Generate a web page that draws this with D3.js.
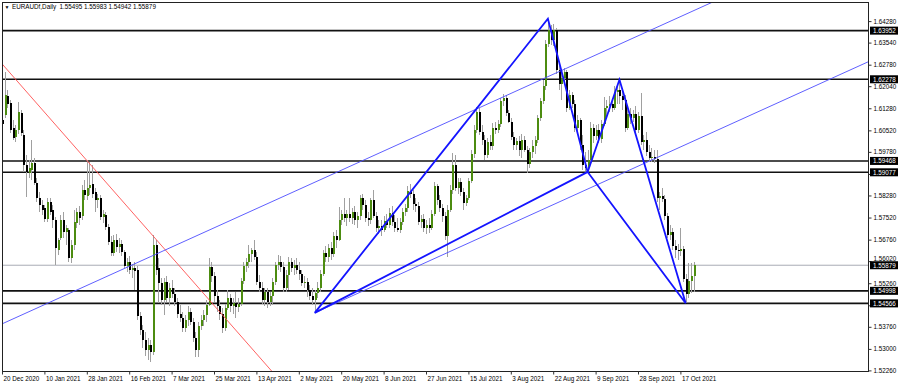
<!DOCTYPE html>
<html>
<head>
<meta charset="utf-8">
<script src="https://cdn.jsdelivr.net/npm/d3@7"></script>
<style>
body { margin: 0; background: #fff; }
svg text { font-family: "Liberation Sans", Arial, sans-serif; font-size: 6.3px; }
</style>
</head>
<body>
<div id="chart"></div>
<script>
// EURAUDf daily candles, one per bar (Sun-Fri sessions)
const opens = [
  1.6088,1.6105,1.6171,1.6147,1.6061,1.6030,1.6054,1.6112,1.6037,1.5933,
  1.5906,1.5916,1.5940,1.5871,1.5820,1.5796,1.5785,1.5748,1.5806,1.5779,
  1.5744,1.5641,1.5682,1.5744,1.5703,1.5710,1.5613,1.5658,1.5734,1.5772,
  1.5758,1.5847,1.5827,1.5854,1.5868,1.5841,1.5813,1.5820,1.5755,1.5761,
  1.5720,1.5669,1.5631,1.5675,1.5651,1.5662,1.5634,1.5586,1.5600,1.5572,
  1.5579,1.5572,1.5414,1.5366,1.5331,1.5297,1.5314,1.5290,1.5658,1.5579,
  1.5527,1.5469,1.5531,1.5476,1.5510,1.5490,1.5462,1.5421,1.5407,1.5373,
  1.5400,1.5428,1.5393,1.5338,1.5297,1.5380,1.5400,1.5417,1.5452,1.5583,
  1.5552,1.5483,1.5448,1.5421,1.5373,1.5441,1.5476,1.5448,1.5459,1.5445,
  1.5455,1.5534,1.5586,1.5600,1.5627,1.5641,1.5617,1.5531,1.5510,1.5469,
  1.5497,1.5462,1.5483,1.5531,1.5589,1.5600,1.5583,1.5510,1.5555,1.5600,
  1.5579,1.5589,1.5572,1.5558,1.5527,1.5531,1.5503,1.5483,1.5469,1.5493,
  1.5510,1.5558,1.5631,1.5617,1.5648,1.5627,1.5689,1.5675,1.5744,1.5765,
  1.5751,1.5765,1.5751,1.5772,1.5744,1.5758,1.5820,1.5796,1.5751,1.5744,
  1.5813,1.5758,1.5717,1.5724,1.5710,1.5741,1.5727,1.5768,1.5737,1.5717,
  1.5710,1.5737,1.5772,1.5785,1.5844,1.5834,1.5799,1.5792,1.5737,1.5748,
  1.5717,1.5727,1.5717,1.5765,1.5861,1.5813,1.5785,1.5758,1.5689,1.5779,
  1.5847,1.5933,1.5854,1.5875,1.5841,1.5803,1.5820,1.5878,1.5971,1.6054,
  1.6116,1.6047,1.6019,1.5968,1.6013,1.5999,1.6061,1.6054,1.6074,1.6154,
  1.6164,1.6112,1.6081,1.6030,1.6002,1.6016,1.5985,1.6019,1.5985,1.5937,
  1.5978,1.5999,1.6019,1.6095,1.6154,1.6205,1.6350,1.6398,1.6363,1.6398,
  1.6260,1.6212,1.6233,1.6253,1.6129,1.6174,1.6143,1.6061,1.6088,1.6002,
  1.5933,1.5923,1.5951,1.6061,1.6033,1.6054,1.6023,1.6074,1.6129,1.6136,
  1.6143,1.6129,1.6185,1.6191,1.6171,1.6157,1.6061,1.6109,1.6095,1.6109,
  1.6054,1.6102,1.6013,1.6019,1.5978,1.5957,1.5961,1.5954,1.5820,1.5827,
  1.5816,1.5758,1.5693,1.5703,1.5655,1.5641,1.5638,1.5644,1.5541,1.5490,
  1.5534,1.55495
]
const highs = [
  1.6112,1.6253,1.6191,1.6157,1.6088,1.6071,1.6150,1.6123,1.6054,1.5968,
  1.5951,1.6019,1.5957,1.5889,1.5841,1.5813,1.5796,1.5820,1.5820,1.5796,
  1.5755,1.5682,1.5761,1.5772,1.5727,1.5717,1.5675,1.5779,1.5785,1.5792,
  1.5865,1.5882,1.5951,1.5944,1.5933,1.5854,1.5834,1.5830,1.5779,1.5772,
  1.5730,1.5689,1.5693,1.5696,1.5682,1.5675,1.5641,1.5613,1.5620,1.5593,
  1.5600,1.5586,1.5428,1.5383,1.5359,1.5338,1.5331,1.5693,1.5675,1.5613,
  1.5545,1.5545,1.5552,1.5527,1.5538,1.5510,1.5476,1.5452,1.5428,1.5417,
  1.5448,1.5441,1.5407,1.5359,1.5393,1.5417,1.5435,1.5469,1.5613,1.5600,
  1.5565,1.5503,1.5469,1.5441,1.5455,1.5503,1.5490,1.5476,1.5497,1.5476,
  1.5545,1.5600,1.5613,1.5658,1.5648,1.5675,1.5634,1.5555,1.5531,1.5510,
  1.5510,1.5497,1.5545,1.5600,1.5624,1.5620,1.5600,1.5572,1.5617,1.5613,
  1.5607,1.5613,1.5600,1.5572,1.5552,1.5545,1.5521,1.5510,1.5503,1.5531,
  1.5572,1.5641,1.5655,1.5662,1.5669,1.5703,1.5710,1.5789,1.5779,1.5820,
  1.5779,1.5820,1.5785,1.5792,1.5772,1.5830,1.5834,1.5813,1.5772,1.5820,
  1.5847,1.5772,1.5744,1.5744,1.5758,1.5765,1.5785,1.5792,1.5761,1.5751,
  1.5751,1.5785,1.5799,1.5861,1.5868,1.5847,1.5820,1.5806,1.5761,1.5765,
  1.5744,1.5751,1.5779,1.5875,1.5868,1.5830,1.5799,1.5772,1.5796,1.5865,
  1.5975,1.5968,1.5889,1.5889,1.5854,1.5830,1.5889,1.5985,1.6071,1.6133,
  1.6129,1.6071,1.6037,1.6026,1.6037,1.6078,1.6081,1.6088,1.6164,1.6178,
  1.6174,1.6123,1.6095,1.6047,1.6026,1.6033,1.6040,1.6033,1.5999,1.5992,
  1.6019,1.6033,1.6105,1.6164,1.6226,1.6363,1.6436,1.6415,1.6418,1.6405,
  1.6274,1.6253,1.6267,1.6260,1.6191,1.6185,1.6157,1.6105,1.6095,1.6037,
  1.5978,1.5985,1.6081,1.6074,1.6071,1.6074,1.6088,1.6167,1.6157,1.6171,
  1.6164,1.6205,1.6212,1.6226,1.6198,1.6174,1.6129,1.6129,1.6123,1.6136,
  1.6116,1.6181,1.6037,1.6047,1.6002,1.5992,1.5985,1.5985,1.5841,1.5854,
  1.5830,1.5768,1.5727,1.5717,1.5675,1.5662,1.5717,1.5655,1.5558,1.5596,
  1.5596,1.55983
]
const lows = [
  1.6061,1.6095,1.6129,1.6043,1.6019,1.6013,1.6040,1.6033,1.5909,1.5823,
  1.5889,1.5882,1.5865,1.5806,1.5772,1.5761,1.5737,1.5737,1.5761,1.5717,
  1.5589,1.5624,1.5675,1.5682,1.5658,1.5600,1.5596,1.5641,1.5717,1.5727,
  1.5744,1.5813,1.5813,1.5830,1.5820,1.5772,1.5785,1.5744,1.5734,1.5710,
  1.5658,1.5620,1.5620,1.5634,1.5631,1.5620,1.5579,1.5565,1.5558,1.5545,
  1.5503,1.5400,1.5349,1.5304,1.5276,1.5263,1.5256,1.5280,1.5555,1.5459,
  1.5452,1.5417,1.5462,1.5448,1.5476,1.5448,1.5407,1.5393,1.5359,1.5359,
  1.5380,1.5383,1.5325,1.5273,1.5273,1.5366,1.5380,1.5393,1.5448,1.5531,
  1.5462,1.5428,1.5400,1.5355,1.5362,1.5435,1.5428,1.5421,1.5407,1.5428,
  1.5448,1.5524,1.5565,1.5579,1.5600,1.5607,1.5521,1.5497,1.5455,1.5448,
  1.5441,1.5448,1.5452,1.5521,1.5572,1.5565,1.5497,1.5497,1.5503,1.5565,
  1.5555,1.5558,1.5538,1.5517,1.5510,1.5479,1.5469,1.5452,1.5424,1.5476,
  1.5497,1.5551,1.5600,1.5600,1.5607,1.5617,1.5648,1.5672,1.5727,1.5737,
  1.5724,1.5737,1.5730,1.5727,1.5717,1.5744,1.5779,1.5737,1.5724,1.5730,
  1.5751,1.5703,1.5696,1.5689,1.5703,1.5717,1.5717,1.5724,1.5703,1.5703,
  1.5699,1.5727,1.5758,1.5772,1.5820,1.5779,1.5772,1.5727,1.5717,1.5703,
  1.5696,1.5699,1.5710,1.5758,1.5796,1.5772,1.5737,1.5675,1.5617,1.5772,
  1.5834,1.5844,1.5834,1.5827,1.5779,1.5792,1.5813,1.5871,1.5957,1.6043,
  1.6037,1.6002,1.5951,1.5957,1.5985,1.5985,1.6040,1.6043,1.6064,1.6136,
  1.6102,1.6078,1.6019,1.5985,1.5985,1.5964,1.5957,1.5978,1.5906,1.5923,
  1.5957,1.5971,1.6009,1.6085,1.6143,1.6191,1.6339,1.6346,1.6343,1.6246,
  1.6191,1.6157,1.6212,1.6116,1.6123,1.6129,1.6047,1.6043,1.5985,1.5916,
  1.5913,1.5909,1.5933,1.6009,1.6019,1.6009,1.6009,1.6067,1.6095,1.6116,
  1.6116,1.6123,1.6143,1.6143,1.6123,1.6047,1.6054,1.6074,1.6081,1.6040,
  1.6043,1.6002,1.5985,1.5964,1.5944,1.5944,1.5940,1.5806,1.5779,1.5806,
  1.5744,1.5682,1.5675,1.5641,1.5613,1.5607,1.5620,1.5531,1.5457,1.5476,
  1.5493,1.54942
]
const closes = [
  1.6074,1.6174,1.6143,1.6054,1.6026,1.6054,1.6116,1.6043,1.5933,1.5909,
  1.5923,1.5940,1.5871,1.5820,1.5796,1.5779,1.5748,1.5806,1.5772,1.5744,
  1.5648,1.5675,1.5744,1.5703,1.5717,1.5613,1.5658,1.5737,1.5772,1.5751,
  1.5847,1.5830,1.5854,1.5865,1.5834,1.5813,1.5820,1.5755,1.5765,1.5720,
  1.5669,1.5631,1.5675,1.5651,1.5662,1.5634,1.5586,1.5600,1.5572,1.5579,
  1.5569,1.5414,1.5366,1.5331,1.5297,1.5314,1.5290,1.5658,1.5572,1.5527,
  1.5469,1.5531,1.5476,1.5510,1.5490,1.5462,1.5421,1.5407,1.5373,1.5400,
  1.5428,1.5393,1.5338,1.5297,1.5380,1.5400,1.5417,1.5452,1.5583,1.5552,
  1.5483,1.5448,1.5421,1.5373,1.5441,1.5476,1.5448,1.5459,1.5445,1.5455,
  1.5534,1.5586,1.5600,1.5627,1.5641,1.5617,1.5531,1.5510,1.5469,1.5497,
  1.5462,1.5483,1.5531,1.5589,1.5600,1.5583,1.5510,1.5555,1.5600,1.5579,
  1.5589,1.5572,1.5558,1.5527,1.5531,1.5503,1.5483,1.5469,1.5493,1.5510,
  1.5558,1.5631,1.5617,1.5648,1.5627,1.5689,1.5675,1.5744,1.5765,1.5751,
  1.5765,1.5751,1.5772,1.5744,1.5758,1.5820,1.5796,1.5751,1.5744,1.5813,
  1.5758,1.5717,1.5724,1.5710,1.5741,1.5727,1.5768,1.5737,1.5717,1.5710,
  1.5737,1.5772,1.5785,1.5844,1.5834,1.5799,1.5792,1.5737,1.5748,1.5717,
  1.5727,1.5717,1.5765,1.5861,1.5813,1.5785,1.5758,1.5689,1.5779,1.5847,
  1.5933,1.5854,1.5875,1.5841,1.5803,1.5820,1.5878,1.5971,1.6054,1.6116,
  1.6047,1.6019,1.5968,1.6013,1.5999,1.6061,1.6054,1.6074,1.6154,1.6164,
  1.6112,1.6081,1.6030,1.6002,1.6016,1.5985,1.6019,1.5985,1.5937,1.5978,
  1.5999,1.6019,1.6095,1.6154,1.6205,1.6350,1.6398,1.6363,1.6398,1.6260,
  1.6212,1.6233,1.6253,1.6129,1.6174,1.6143,1.6061,1.6088,1.6002,1.5933,
  1.5923,1.5951,1.6061,1.6033,1.6054,1.6023,1.6074,1.6129,1.6136,1.6143,
  1.6129,1.6185,1.6191,1.6171,1.6157,1.6061,1.6109,1.6095,1.6109,1.6054,
  1.6102,1.6013,1.6019,1.5978,1.5957,1.5961,1.5954,1.5820,1.5827,1.5816,
  1.5758,1.5693,1.5703,1.5655,1.5641,1.5638,1.5644,1.5541,1.5490,1.5534,
  1.5550,1.55879
]

// time axis labels, one every 16 bars
const dateLabels = ["20 Dec 2020","10 Jan 2021","28 Jan 2021","16 Feb 2021","7 Mar 2021",
  "25 Mar 2021","13 Apr 2021","2 May 2021","20 May 2021","8 Jun 2021","27 Jun 2021",
  "15 Jul 2021","3 Aug 2021","22 Aug 2021","9 Sep 2021","28 Sep 2021","17 Oct 2021"]
const barsPerLabel = 16
// price scale labels
const priceTicks = [1.64280,1.63540,1.62780,1.62040,1.61280,1.60520,1.59780,1.59020,
  1.58280,1.57520,1.56760,1.56020,1.55260,1.54500,1.53760,1.53000,1.52260]

// horizontal levels and current bid
const levels = [1.63952, 1.62278, 1.59468, 1.59077, 1.54998, 1.54566]
const bid = 1.55879

// drawn objects: [bar index, price]
const redTrend = [[0, 1.6281], [100, 1.5242]]
const channelUpper = [[0, 1.5386], [200, 1.6212]]
const channelLower = [[118, 1.5424], [250, 1.5970]]
// X A B C D points of the pattern
const pattern = [[118, 1.5424], [206, 1.6436], [221, 1.5909], [233, 1.6226], [258, 1.5457]]

const title = "EURAUDf,Daily  1.55495 1.55983 1.54942 1.55879"

/* layout */
const W = 900, H = 386
const plot = {left: 2, top: 2, right: 869, bottom: 372}
const barStep = 2.65
const slots = 327

const x = d3.scaleLinear().domain([0, slots]).range([plot.left, plot.left + slots * barStep])
const y = d3.scaleLinear().domain([1.52260, 1.64280]).range([370.4, 21.1])

const svg = d3.select("#chart").append("svg")
  .attr("width", W)
  .attr("height", H)

svg.append("defs").append("clipPath").attr("id", "clip")
  .append("rect")
  .attr("x", plot.left).attr("y", plot.top)
  .attr("width", plot.right - plot.left).attr("height", plot.bottom - plot.top)

const area = svg.append("g").attr("clip-path", "url(#clip)")

// level lines
area.selectAll(".lvl").data(levels).enter().append("line")
  .attr("x1", plot.left).attr("x2", plot.right)
  .attr("y1", d => y(d)).attr("y2", d => y(d))
  .attr("stroke", "#111").attr("stroke-width", 1.6)

area.append("line")
  .attr("x1", plot.left).attr("x2", plot.right)
  .attr("y1", y(bid)).attr("y2", y(bid))
  .attr("stroke", "#a8abb4").attr("stroke-width", 1)

// candles
const bars = d3.range(opens.length).map(i => ({
  i: i, o: opens[i], h: highs[i], l: lows[i], c: closes[i]
}))

const candle = area.selectAll(".bar").data(bars).enter().append("g")
  .attr("shape-rendering", "crispEdges")

candle.append("rect")
  .attr("x", d => Math.round(x(d.i)))
  .attr("width", 1)
  .attr("y", d => y(d.h))
  .attr("height", d => Math.max(1, y(d.l) - y(d.h)))
  .attr("fill", "#a0a0a0")

candle.append("rect")
  .attr("x", d => Math.round(x(d.i)) - 0.5)
  .attr("width", 2)
  .attr("y", d => y(Math.max(d.o, d.c)))
  .attr("height", d => Math.max(1, Math.abs(y(d.o) - y(d.c))))
  .attr("fill", d => d.c > d.o ? "#4c8c10" : "#000")

// helper: extend a line through two anchors over the bar range
function extend(pts, from, to) {
  let [a, b] = pts
  let k = (b[1] - a[1]) / (b[0] - a[0])
  return [[from, a[1] + k * (from - a[0])], [to, a[1] + k * (to - a[0])]]
}
const lineGen = d3.line().x(d => x(d[0])).y(d => y(d[1]))

area.append("path").attr("d", lineGen(extend(redTrend, -2, 330)))
  .attr("fill", "none").attr("stroke", "#ff5050").attr("stroke-width", 0.9)
area.append("path").attr("d", lineGen(extend(channelUpper, -2, 330)))
  .attr("fill", "none").attr("stroke", "#4d4dff").attr("stroke-width", 0.9)
area.append("path").attr("d", lineGen(extend(channelLower, 118, 330)))
  .attr("fill", "none").attr("stroke", "#4d4dff").attr("stroke-width", 0.9)

// two triangles: X-A-B and B-C-D
let [X, A, B, C, D] = pattern
const tri = [[X, A, B, X], [B, C, D, B]]
area.selectAll(".tri").data(tri).enter().append("path")
  .attr("d", d => lineGen(d))
  .attr("fill", "none").attr("stroke", "#1414ff").attr("stroke-width", 1.8)
  .attr("stroke-linejoin", "miter")

// frame
svg.append("rect")
  .attr("x", plot.left + 0.5).attr("y", plot.top + 0.5)
  .attr("width", plot.right - plot.left - 1).attr("height", plot.bottom - plot.top - 1)
  .attr("fill", "none").attr("stroke", "#222").attr("stroke-width", 1)

// price tags for levels and bid (they sit on top of the scale labels)
const tags = levels.concat([bid])

// price axis
const yAxis = d3.axisRight(y)
  .tickValues(priceTicks)
  .tickSize(3)
  .tickPadding(2)
  .tickFormat(d3.format(".5f"))

const gy = svg.append("g").attr("transform", "translate(" + (plot.right - 0.5) + ",0)").call(yAxis)
gy.select(".domain").remove()
gy.selectAll("line").attr("stroke", "#333")
gy.selectAll("text").attr("fill", "#000").style("font-size", "6.3px")
  .each(function (d) {
    // a label hidden under a tag is dropped, a partly covered one is pushed clear of it
    let gap = d3.min(tags, t => Math.abs(y(t) - y(d)))
    let near = tags.find(t => Math.abs(y(t) - y(d)) === gap)
    if (gap < 3) d3.select(this).remove()
    else if (gap < 7) d3.select(this).attr("y", (y(d) < y(near) ? -1 : 1) * (7 - gap))
  })

// time axis
const xAxis = d3.axisBottom(x)
  .tickValues(dateLabels.map((d, k) => k * barsPerLabel))
  .tickSize(3)
  .tickPadding(2)
  .tickFormat((d, k) => dateLabels[k])

const gx = svg.append("g").attr("transform", "translate(0," + (plot.bottom - 0.5) + ")").call(xAxis)
gx.select(".domain").remove()
gx.selectAll("text").attr("text-anchor", "start").attr("dx", "1").attr("fill", "#000")
  .style("font-size", "6.3px")
gx.selectAll("line").attr("stroke", "#333")

const tag = svg.selectAll(".tag").data(tags).enter().append("g")
  .attr("transform", d => "translate(" + (plot.right + 1) + "," + y(d) + ")")
tag.append("rect").attr("x", 0).attr("y", -4).attr("width", 28).attr("height", 8).attr("fill", "#000")
tag.append("text").attr("x", 3).attr("y", 2.3).attr("fill", "#fff")
  .text(d => d3.format(".5f")(d))

// title
svg.append("text").attr("x", 4.5).attr("y", 9).style("font-size", "5px").text("▼")
svg.append("text").attr("x", 12).attr("y", 9.2)
  .style("white-space", "pre")
  .text(title)
</script>
</body>
</html>
